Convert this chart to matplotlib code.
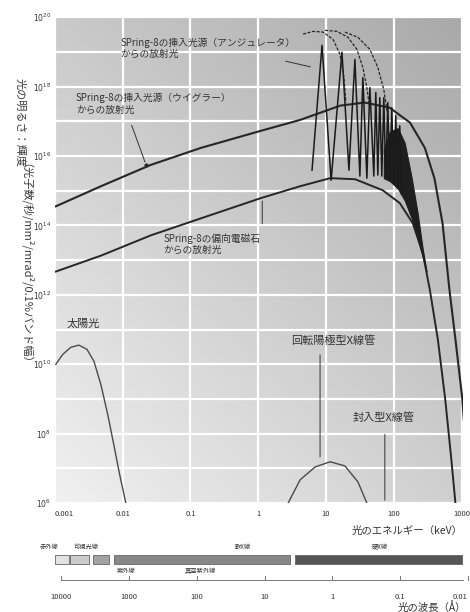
import matplotlib.pyplot as plt
import numpy as np

plt.rcParams['font.family'] = ['Noto Sans CJK JP', 'DejaVu Sans']

# energy in keV, brightness as log10 value
bm_E = [0.00103, 0.00479, 0.0257, 0.141, 1.07, 4.17, 11.5, 26.9, 69, 123, 191, 269, 339, 447, 575, 708, 813, 850]
bm_B = [12.67, 13.13, 13.71, 14.20, 14.78, 15.13, 15.36, 15.33, 15.01, 14.64, 14.06, 13.19, 12.17, 10.72, 8.99, 7.25, 6.0, 5.5]

wig_E = [0.00103, 0.00479, 0.0257, 0.141, 1.07, 4.17, 16.2, 37.2, 87, 174, 288, 398, 525, 661, 813, 1023, 1100]
wig_B = [14.55, 15.13, 15.74, 16.23, 16.72, 17.04, 17.45, 17.54, 17.39, 16.96, 16.23, 15.36, 14.06, 12.17, 10.72, 9.04, 8.2]

und_E = [6.22, 8.73, 11.9, 17.2, 21.8, 26.7, 31.6, 35.0, 40.1, 44.4, 50.8,
         54.3, 58.2, 62.2, 66.6, 71.3, 76.2, 81.6, 87.3, 93.5, 100, 107, 114.5, 122.5, 130]
und_B = [15.59, 19.19, 15.30, 18.99, 15.59, 18.78, 15.42, 18.26, 15.36, 17.97, 15.42,
         17.83, 15.45, 17.68, 15.42, 17.68, 15.36, 17.54, 15.28, 17.39, 15.20, 17.16, 15.07, 16.87, 14.9]

dense_E = [71.3, 87.3, 114.5, 145, 184, 225, 267, 305]
dense_hi = [16.2, 16.7, 16.8, 16.38, 15.36, 14.35, 13.33, 12.67]
dense_lo = [15.36, 15.28, 15.07, 14.72, 14.20, 13.62, 13.10, 12.67]

tune1_E = [4.59, 6.44, 9.04, 12.7, 16.1, 18.4, 19.7]
tune1_B = [19.51, 19.59, 19.57, 19.36, 18.93, 18.26, 17.54]
tune2_E = [9.66, 14.5, 21.1, 28.6, 35.0, 40.1, 44.4]
tune2_B = [19.62, 19.59, 19.42, 19.07, 18.55, 17.97, 17.33]
tune3_E = [19.0, 29.6, 44.4, 58.2, 71.3, 81.6]
tune3_B = [19.57, 19.42, 19.07, 18.55, 17.91, 17.16]

sun_E = [0.00103, 0.00131, 0.00172, 0.00225, 0.00296, 0.00375, 0.00475, 0.00601, 0.00738, 0.00903, 0.0111, 0.012]
sun_B = [10.0, 10.29, 10.49, 10.55, 10.43, 10.09, 9.42, 8.55, 7.68, 6.81, 6.0, 5.7]

tube_E = [2.5, 2.76, 4.15, 6.9, 11.5, 19.0, 29.6, 40.1, 44.0]
tube_B = [5.7, 6.0, 6.67, 7.04, 7.19, 7.07, 6.61, 6.0, 5.7]

ytick_exp = [6, 8, 10, 12, 14, 16, 18, 20]
xticks = [0.001, 0.01, 0.1, 1, 10, 100, 1000]
xtick_labels = ['0.001', '0.01', '0.1', '1', '10', '100', '1000']

# wavelength bar
band_lo = [0.001, 0.00165, 0.0036, 0.0074, 3.5]
band_hi = [0.0016, 0.0032, 0.0062, 2.95, 1000]
band_colors = ['#e2e2e2', '#cbcbcb', '#a2a2a2', '#888888', '#555555']
band_top_text = ['赤外線', '可視光線', '軟X線', '硬X線']
band_top_E = [0.00082, 0.0029, 0.60, 62.0]
band_bot_text = ['紫外線', '真空紫外線']
band_bot_E = [0.0111, 0.140]
wavelengths = [10000, 1000, 100, 10, 1, 0.1, 0.01]
wl_labels = ['10000', '1000', '100', '10', '1', '0.1', '0.01']

fig = plt.figure(figsize=(4.7, 6.12), dpi=100)
ax = fig.add_axes([0.117, 0.178, 0.868, 0.794])

xx, yy = np.meshgrid(np.linspace(0, 1, 200), np.linspace(0, 1, 200))
bg = 0.94 - 0.13 * xx - 0.15 * yy
ax.imshow(bg, extent=[0, 1, 0, 1], transform=ax.transAxes, origin='lower',
          cmap='gray', vmin=0, vmax=1, aspect='auto', zorder=0)

ax.set_xscale('log')
ax.set_yscale('log')
ax.set_xlim(1e-3, 1.05e3)
ax.set_ylim(1e6, 1e20)

dark = '#262626'
ax.plot(bm_E, 10 ** np.array(bm_B), color=dark, lw=1.4, zorder=3)
ax.plot(wig_E, 10 ** np.array(wig_B), color=dark, lw=1.5, zorder=3)
ax.fill_between(dense_E, 10 ** np.array(dense_lo), 10 ** np.array(dense_hi),
                color='#1e1e1e', lw=0.8, zorder=3)
ax.plot(und_E, 10 ** np.array(und_B), color='#1a1a1a', lw=1.1, zorder=4)
for tE, tB in [(tune1_E, tune1_B), (tune2_E, tune2_B), (tune3_E, tune3_B)]:
    ax.plot(tE, 10 ** np.array(tB), color=dark, lw=0.9, ls=(0, (2.5, 1.2)), zorder=4)
ax.plot(sun_E, 10 ** np.array(sun_B), color='#4a4a4a', lw=1.0, zorder=3)
ax.plot(tube_E, 10 ** np.array(tube_B), color='#4a4a4a', lw=1.0, zorder=3)

yt = [10.0 ** k for k in range(6, 21)]
ax.set_yticks(yt)
ax.set_yticklabels(['$10^{%d}$' % k if k in ytick_exp else '' for k in range(6, 21)])
ax.yaxis.set_minor_locator(plt.NullLocator())
ax.set_xticks(xticks)
ax.set_xticklabels(xtick_labels)
ax.xaxis.set_minor_locator(plt.NullLocator())
ax.tick_params(length=0, labelsize=5.5, colors='#333333', pad=3)
ax.tick_params(axis='x', pad=5)
ax.get_xticklabels()[0].set_ha('left')
ax.grid(True, color='white', lw=1.6, zorder=1)
ax.set_axisbelow(True)
for s in ax.spines.values():
    s.set_visible(False)

tc = '#333333'
fs = 7.0
ax.text(0.0093, 10 ** 19.1, 'SPring-8の挿入光源（アンジュレータ）\nからの放射光', fontsize=fs,
        color=tc, va='center', ha='left', linespacing=1.15, zorder=5)
ax.annotate('', xy=(6.44, 10 ** 18.55), xytext=(2.3, 10 ** 18.75),
            arrowprops=dict(arrowstyle='-', color=tc, lw=0.7), zorder=5)
ax.text(0.00204, 10 ** 17.5, 'SPring-8の挿入光源（ウイグラー）\nからの放射光', fontsize=fs,
        color=tc, va='center', ha='left', linespacing=1.15, zorder=5)
ax.annotate('', xy=(0.022, 10 ** 15.75), xytext=(0.0131, 10 ** 16.96),
            arrowprops=dict(arrowstyle='-', color=tc, lw=0.7), zorder=5)
ax.plot([0.022], [10 ** 15.75], 'o', ms=2, color=dark, zorder=5)
ax.text(0.0401, 10 ** 13.45, 'SPring-8の偏向電磁石\nからの放射光', fontsize=fs,
        color=tc, va='center', ha='left', linespacing=1.15, zorder=5)
ax.annotate('', xy=(1.146, 10 ** 14.78), xytext=(1.146, 10 ** 13.97),
            arrowprops=dict(arrowstyle='-', color=tc, lw=0.7), zorder=5)
ax.text(0.00258, 10 ** 11.16, '太陽光', fontsize=8, color=tc, ha='center', va='center', zorder=5)
ax.text(12.7, 10 ** 10.67, '回転陽極型X線管', fontsize=8, color=tc, ha='center', va='center', zorder=5)
ax.annotate('', xy=(8.17, 10 ** 7.25), xytext=(8.17, 10 ** 10.35),
            arrowprops=dict(arrowstyle='-', color=tc, lw=0.7), zorder=5)
ax.text(71.3, 10 ** 8.46, '封入型X線管', fontsize=8, color=tc, ha='center', va='center', zorder=5)
ax.annotate('', xy=(73.8, 10 ** 6.0), xytext=(73.8, 10 ** 8.06),
            arrowprops=dict(arrowstyle='-', color=tc, lw=0.7), zorder=5)

ax.text(1.0, -0.058, '光のエネルギー（keV）', transform=ax.transAxes, fontsize=7.5,
        color=tc, ha='right', va='center')

fig.text(0.043, 0.80, '光の明るさ：輝度', rotation=-90, fontsize=8, color='#3a3a3a',
         ha='center', va='center')
fig.text(0.043, 0.56, '（光子数/秒/mm²/mrad²/0.1%バンド幅）', rotation=-90, fontsize=8,
         color='#3a3a3a', ha='center', va='center')

# wavelength band panel
bx = fig.add_axes([0.117, 0.0, 0.868, 0.1258])
bx.set_xscale('log')
bx.set_xlim(1e-3, 1.05e3)
bx.set_ylim(0, 1)
bx.axis('off')
for lo, hi, c in zip(band_lo, band_hi, band_colors):
    bx.fill_between([lo, hi], 0.623, 0.74, color=c, ec='#666666', lw=0.6)
for t, e in zip(band_top_text, band_top_E):
    bx.text(e, 0.845, t, fontsize=4.5, color=tc, ha='center', va='center', clip_on=False)
for t, e in zip(band_bot_text, band_bot_E):
    bx.text(e, 0.53, t, fontsize=4.5, color=tc, ha='center', va='center', clip_on=False)
wl_E = [12.398 / w for w in wavelengths]
bx.plot([wl_E[0], 1.05e3], [0.416, 0.416], color='#777777', lw=0.7, clip_on=False)
for i, (e, lab) in enumerate(zip(wl_E, wl_labels)):
    bx.plot([e, e], [0.416, 0.47], color='#777777', lw=0.7, clip_on=False)
    bx.text(e, 0.195, lab, fontsize=5.5, color=tc, ha='right' if i == len(wl_E) - 1 else 'center',
            va='center', clip_on=False)
bx.text(1.05e3 * 1.1, 0.06, '光の波長（Å）', fontsize=7.5, color=tc, ha='right', va='center',
        clip_on=False)

fig.savefig('out.png', dpi=100)
